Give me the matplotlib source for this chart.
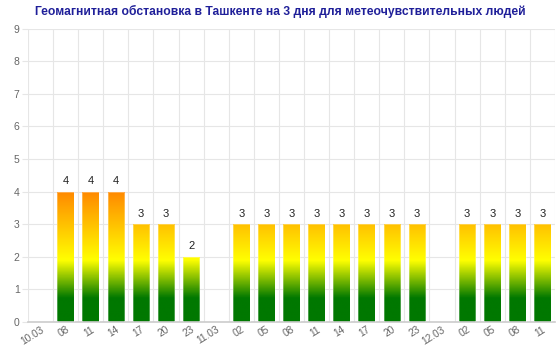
import matplotlib

matplotlib.use("Agg")
import matplotlib.pyplot as plt
import numpy as np
from matplotlib.colors import LinearSegmentedColormap

labels = ["10.03", "08", "11", "14", "17", "20", "23", "11.03", "02", "05", "08",
          "11", "14", "17", "20", "23", "12.03", "02", "05", "08", "11"]
values = [np.nan, 4, 4, 4, 3, 3, 2, np.nan, 3, 3, 3,
          3, 3, 3, 3, 3, np.nan, 3, 3, 3, 3]
title = "Геомагнитная обстановка в Ташкенте на 3 дня для метеочувствительных людей"

plt.rcParams["font.family"] = ["Liberation Sans", "DejaVu Sans"]

# gradient in value space: dark green at the bottom, yellow near 2, orange at 4
grad = LinearSegmentedColormap.from_list(
    "kp", [(0.0, "#007800"), (0.18, "#007800"), (0.47, "#ffff00"), (1.0, "#ff8800")]
)

fig = plt.figure(figsize=(5.6, 3.47), dpi=100)
ax = fig.add_axes([0.05, 0.073, 0.941, 0.844])

n = len(labels)
x = np.arange(n)

yy = np.linspace(0, 9, 400).reshape(-1, 1)
bars = ax.bar(x, np.nan_to_num(values), width=0.66, color="none",
              edgecolor=(1, 1, 1, 0.35), linewidth=0.6, zorder=3)
for xi, v, bar in zip(x, values, bars):
    if np.isnan(v):
        continue
    im = ax.imshow(yy, cmap=grad, vmin=0, vmax=4, origin="lower", aspect="auto",
                   extent=[xi - 0.5, xi + 0.5, 0, 9], zorder=2, interpolation="bilinear")
    im.set_clip_path(bar)
    ax.text(xi, v + 0.17, f"{int(v)}", ha="center", va="bottom", fontsize=8, color="#222222")

ax.set_xlim(-0.5, n - 0.5)
ax.set_ylim(0, 9)

ax.set_yticks(range(10))
ax.set_xticks(x)
ax.set_xticklabels(labels, rotation=32, ha="right", rotation_mode="anchor")
ax.set_xticks(np.arange(-0.5, n, 1), minor=True)
ax.tick_params(axis="x", which="major", length=0, colors="#666666", labelsize=7.3, pad=2)
ax.tick_params(axis="x", which="minor", length=0)
ax.tick_params(axis="y", length=4, color="#e6e6e6", colors="#666666", labelsize=7.5, pad=2)

ax.grid(axis="x", which="minor", color="#e6e6e6", linewidth=0.8, zorder=0)
ax.grid(axis="y", which="major", color="#e6e6e6", linewidth=0.8, zorder=0)
ax.set_axisbelow(True)
for side in ["top", "right", "left"]:
    ax.spines[side].set_visible(False)
ax.spines["bottom"].set_color("#cccccc")
ax.spines["bottom"].set_linewidth(1.2)

fig.text(0.5, 0.966, title, ha="center", va="center", fontsize=8.7,
         fontweight="bold", color="#1f1f99")

fig.savefig("out.png", dpi=100)
